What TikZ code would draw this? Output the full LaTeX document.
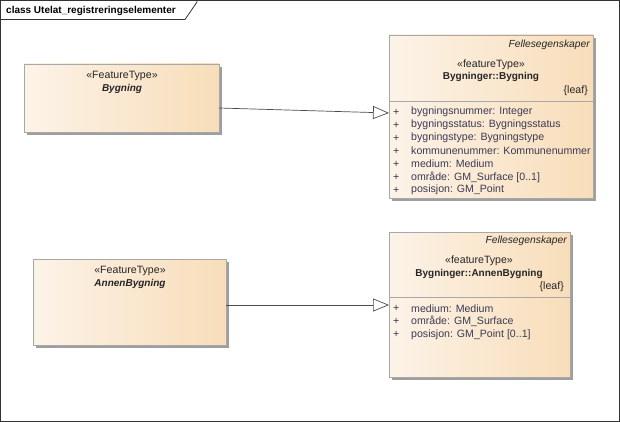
\documentclass[tikz,border=0pt]{standalone}
\usepackage{fontspec}
\setmainfont{Liberation Sans}
\usetikzlibrary{arrows.meta,shadows}
\definecolor{boxL}{HTML}{FCF3E8}
\definecolor{boxR}{HTML}{F8DDB9}
\definecolor{boxLine}{HTML}{A8A8A8}
\definecolor{attrText}{HTML}{3A3A52}
\tikzset{
  umlbox/.style={draw=boxLine, line width=0.8pt, left color=boxL, right color=boxR,
    anchor=north west, inner sep=0pt, outer sep=0pt,
    general shadow={shadow xshift=3pt, shadow yshift=-3pt, fill=black!38}},
  txt/.style={inner sep=0pt, font=\fontsize{10.6}{12}\selectfont, text=black!85},
  boldtxt/.style={txt, font=\fontsize{10}{12}\selectfont\bfseries},
  bitxt/.style={txt, font=\fontsize{10}{12}\selectfont\bfseries\itshape},
  ittxt/.style={txt, font=\fontsize{10.3}{12}\selectfont\itshape},
  attr/.style={txt, anchor=west, text=attrText},
  gen/.style={draw=black!70, line width=0.7pt, -{Triangle[open, length=16pt, width=13pt, fill=white]}}
}
\begin{document}
\begin{tikzpicture}[x=1pt,y=-1pt]
\useasboundingbox (0,0) rectangle (620,422);
\fill[white] (0,0) rectangle (620,422);
% frame
\draw[black!80, line width=0.8pt] (0.5,0.5) rectangle (619.5,421.5);
\draw[black!80, line width=0.8pt] (0.5,19.5) -- (185,19.5) -- (197,2) -- (197,0.5);
\node[boldtxt, anchor=west, text=black] (title) at (6,11) {class Utelat\_registreringselementer};

% Box 1: Bygning
\node[umlbox, minimum width=195pt, minimum height=68pt] (b1) at (24,64) {};
\node[txt] (b1s) at (122,75.5) {«FeatureType»};
\node[bitxt] (b1n) at (122,88.5) {Bygning};

% Box 2: Bygninger::Bygning
\node[umlbox, minimum width=204pt, minimum height=163pt] (b2) at (389,35) {};
\draw[boxLine, line width=0.8pt] (b2.west |- 0,101) -- (b2.east |- 0,101);
\node[ittxt, anchor=east] (b2f) at (590,44.5) {Fellesegenskaper};
\node[txt] (b2s) at (491,64.5) {«featureType»};
\node[boldtxt] (b2n) at (491,77) {Bygninger::Bygning};
\node[txt, anchor=east] (b2l) at (588,90.5) {\{leaf\}};
\foreach \t [count=\i] in {bygningsnummer: Integer, bygningsstatus: Bygningsstatus, bygningstype: Bygningstype, kommunenummer: Kommunenummer, medium: Medium, område: GM\_Surface [0..1], posisjon: GM\_Point}{
  \node[attr] (b2p\i) at (393,{112+13*(\i-1)}) {+};
  \node[attr] (b2a\i) at (411,{112+13*(\i-1)}) {\t};
}

% Box 3: AnnenBygning
\node[umlbox, minimum width=193pt, minimum height=86pt] (b3) at (33,259) {};
\node[txt] (b3s) at (130,270.5) {«FeatureType»};
\node[bitxt] (b3n) at (130,283.5) {AnnenBygning};

% Box 4: Bygninger::AnnenBygning
\node[umlbox, minimum width=181pt, minimum height=145pt] (b4) at (389,232) {};
\draw[boxLine, line width=0.8pt] (b4.west |- 0,297) -- (b4.east |- 0,297);
\node[ittxt, anchor=east] (b4f) at (567,240.5) {Fellesegenskaper};
\node[txt] (b4s) at (479,261) {«featureType»};
\node[boldtxt] (b4n) at (479,273.5) {Bygninger::AnnenBygning};
\node[txt, anchor=east] (b4l) at (564,286.5) {\{leaf\}};
\foreach \t [count=\i] in {medium: Medium, område: GM\_Surface, posisjon: GM\_Point [0..1]}{
  \node[attr] (b4p\i) at (393,{308.5+13*(\i-1)}) {+};
  \node[attr] (b4a\i) at (411,{308.5+13*(\i-1)}) {\t};
}

% generalizations
\draw[gen] ([yshift=-10pt]b1.east) -- ([yshift=3.5pt]b2.west);
\draw[gen] ([yshift=-3pt]b3.east) -- ([yshift=-0.5pt]b4.west);
\end{tikzpicture}
\end{document}
